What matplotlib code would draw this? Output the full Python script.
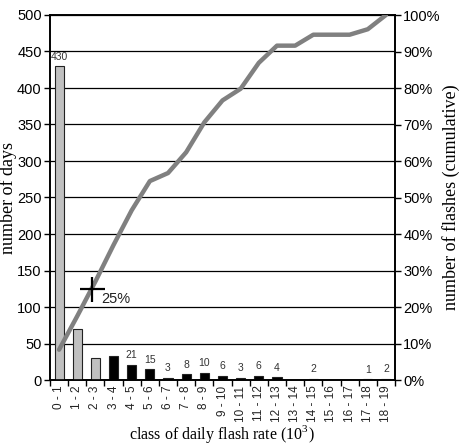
import matplotlib
matplotlib.use("Agg")
import matplotlib.pyplot as plt
import numpy as np
from matplotlib.ticker import FuncFormatter, FixedLocator

categories = ["0 - 1", "1 - 2", "2 - 3", "3 - 4", "4 - 5", "5 - 6", "6 - 7", "7 - 8",
              "8 - 9", "9 - 10", "10 - 11", "11 - 12", "12 - 13", "13 - 14", "14 - 15",
              "15 - 16", "16 - 17", "17 - 18", "18 - 19"]
days = [430, 70, 30, 33, 21, 15, 3, 8, 10, 6, 3, 6, 4, 0, 2, 0, 0, 1, 2]
cumulative_pct = [8.3, 17.5, 27, 37, 46.5, 54.5, 56.7, 62.4, 70.6, 76.6, 79.8, 86.9,
                  91.6, 91.6, 94.6, 94.6, 94.6, 96.1, 100]
unlabeled = {1, 2, 3, 13, 15, 16}
marker_pos = 1.8
marker_pct = 25

plt.rcParams['font.family'] = ['Liberation Sans', 'DejaVu Sans']
plt.rcParams['mathtext.fontset'] = 'custom'
plt.rcParams['mathtext.rm'] = 'Liberation Serif'

fig = plt.figure(figsize=(4.61, 4.44), dpi=100)
ax = fig.add_axes([50/461, 1-380/444, (395-50)/461, (380-15)/444])
n = len(categories)
x = np.arange(n)
colors = ['#c0c0c0' if i < 3 else 'black' for i in range(n)]
bars = ax.bar(x, days, width=0.5, color=colors, edgecolor='#222222', linewidth=0.8, zorder=3)
for i, (b, v) in enumerate(zip(bars, days)):
    if i in unlabeled:
        continue
    ax.text(b.get_x() + b.get_width()/2, v + 6, str(v), ha='center', va='bottom',
            fontsize=7.5, color='#333333', zorder=5)

ax.set_xlim(-0.5, n - 0.5)
ax.set_ylim(0, 500)
ax.set_yticks(np.arange(0, 501, 50))
ax.yaxis.grid(True, color='black', linewidth=0.9, zorder=0)
ax.set_axisbelow(True)
ax.set_xticks(x)
ax.set_xticklabels(categories, rotation=90, fontsize=8.5, color='#222222')
ax.tick_params(axis='x', length=0, pad=4)
ax.xaxis.set_minor_locator(FixedLocator(np.arange(-0.5, n, 1.0)))
ax.tick_params(axis='x', which='minor', length=4, width=1, direction='out')
ax.tick_params(axis='y', length=4, width=1, labelsize=10.5, pad=2)
for s in ax.spines.values():
    s.set_linewidth(1.2)
    s.set_color('black')
ax.set_ylabel("number of days", family='Liberation Serif', fontsize=13, labelpad=0)

ax2 = ax.twinx()
ax2.set_ylim(0, 100)
ax2.set_yticks(np.arange(0, 101, 10))
ax2.yaxis.set_major_formatter(FuncFormatter(lambda v, p: f"{int(v)}%"))
ax2.tick_params(axis='y', length=4, width=1, labelsize=10.5, pad=2)
ax2.plot(x, cumulative_pct, color='#808080', linewidth=3.2, solid_capstyle='round',
         solid_joinstyle='round', zorder=4)
ax2.plot([marker_pos], [marker_pct], marker='+', color='black', markersize=18,
         markeredgewidth=1.6, zorder=6)
ax2.text(marker_pos + 0.5, marker_pct - 0.8, f"{marker_pct}%", fontsize=10.5,
         ha='left', va='top', color='#222222')
ax2.set_ylabel("number of flashes (cumulative)", family='Liberation Serif', fontsize=13,
               labelpad=1)
for s in ax2.spines.values():
    s.set_linewidth(1.2)

fig.text(222/461, 1-439/444, "class of daily flash rate (10$^3$)", ha='center',
         va='baseline', family='Liberation Serif', fontsize=11.5)

fig.savefig("out.png", dpi=100)
